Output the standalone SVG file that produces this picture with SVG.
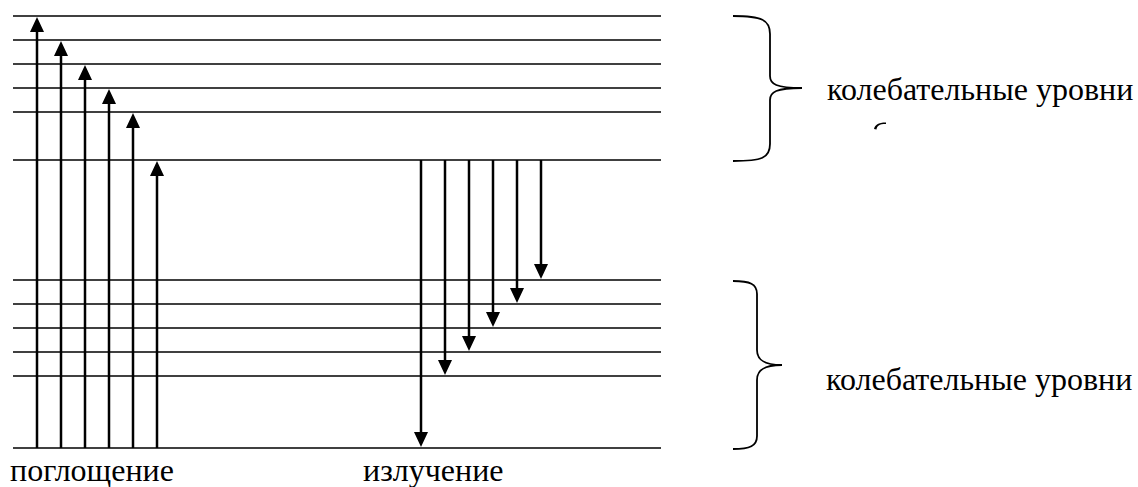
<svg xmlns="http://www.w3.org/2000/svg" width="1138" height="487" viewBox="0 0 1138 487">
<style>
.lvl{stroke:#000;stroke-width:1.6;fill:none}
.arr{stroke:#000;stroke-width:2.5;fill:none}
.brace{stroke:#000;stroke-width:1.8;fill:none}
.lbl{font-family:'Liberation Serif','Times New Roman',serif;font-size:32px;fill:#000}
</style>
<defs>
<marker id="ah" markerUnits="userSpaceOnUse" markerWidth="16" markerHeight="14" refX="11" refY="7" orient="auto">
<path d="M0,0 L15,7 L0,14 z" fill="#000"/>
</marker>
</defs>
<g id="levels-upper">
<line class="lvl" x1="13" y1="16" x2="661" y2="16"/>
<line class="lvl" x1="13" y1="40" x2="661" y2="40"/>
<line class="lvl" x1="13" y1="64" x2="661" y2="64"/>
<line class="lvl" x1="13" y1="88" x2="661" y2="88"/>
<line class="lvl" x1="13" y1="112" x2="661" y2="112"/>
<line class="lvl" x1="13" y1="160" x2="661" y2="160"/>
</g>
<g id="levels-lower">
<line class="lvl" x1="13" y1="280" x2="661" y2="280"/>
<line class="lvl" x1="13" y1="304" x2="661" y2="304"/>
<line class="lvl" x1="13" y1="328" x2="661" y2="328"/>
<line class="lvl" x1="13" y1="352" x2="661" y2="352"/>
<line class="lvl" x1="13" y1="376" x2="661" y2="376"/>
<line class="lvl" x1="13" y1="448" x2="661" y2="448"/>
</g>
<g id="connectors">
<line class="arr" x1="37" y1="448" x2="37" y2="21" marker-end="url(#ah)"/>
<line class="arr" x1="61" y1="448" x2="61" y2="45" marker-end="url(#ah)"/>
<line class="arr" x1="85" y1="448" x2="85" y2="69" marker-end="url(#ah)"/>
<line class="arr" x1="109" y1="448" x2="109" y2="93" marker-end="url(#ah)"/>
<line class="arr" x1="133" y1="448" x2="133" y2="117" marker-end="url(#ah)"/>
<line class="arr" x1="157" y1="448" x2="157" y2="165" marker-end="url(#ah)"/>
<line class="arr" x1="421" y1="160" x2="421" y2="443" marker-end="url(#ah)"/>
<line class="arr" x1="445" y1="160" x2="445" y2="371" marker-end="url(#ah)"/>
<line class="arr" x1="469" y1="160" x2="469" y2="347" marker-end="url(#ah)"/>
<line class="arr" x1="493" y1="160" x2="493" y2="323" marker-end="url(#ah)"/>
<line class="arr" x1="517" y1="160" x2="517" y2="299" marker-end="url(#ah)"/>
<line class="arr" x1="541" y1="160" x2="541" y2="275" marker-end="url(#ah)"/>
</g>
<g id="brace-upper">
<path class="brace" d="M733,16 C762,16 770,20 770,34 L770,76 C770,84 776,88 802,88 C776,88 770,92 770,100 L770,144 C770,158 762,161 733,161"/>
<path d="M874,129 C875,125 878,122.5 886,122.5 L886,124 C879,124 877,126 876.5,129.5 Z" fill="#000"/>
</g>
<g id="brace-lower">
<path class="brace" d="M733,281 C750,281 757,284 757,294 L757,350 C757,360 764,365 782,365 C764,365 757,370 757,380 L757,436 C757,446 750,449 733,449"/>
</g>
<g id="labels">
<text class="lbl" x="827" y="100">колебательные уровни</text>
<text class="lbl" x="826" y="390">колебательные уровни</text>
<text class="lbl" x="10" y="481">поглощение</text>
<text class="lbl" x="363" y="481">излучение</text>
</g>
</svg>
